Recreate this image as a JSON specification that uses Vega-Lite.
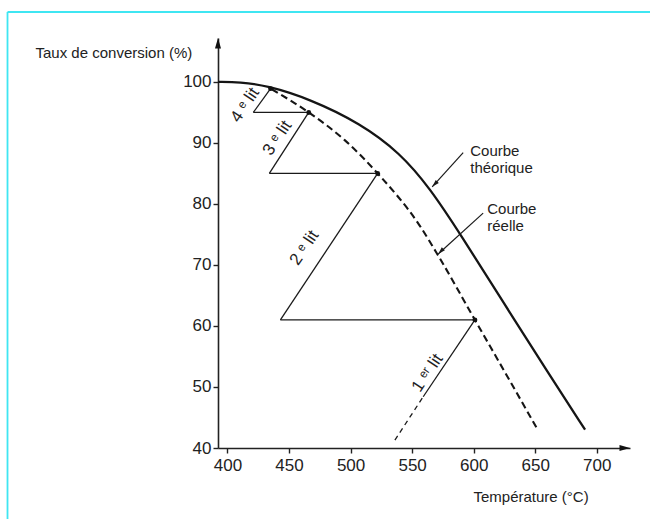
{
  "$schema": "https://vega.github.io/schema/vega-lite/v6.json",
  "autosize": "none",
  "padding": {"left": 218, "top": 38, "right": 20, "bottom": 71},
  "width": 412,
  "height": 410,
  "background": "white",
  "config": {
    "view": {"stroke": null},
    "font": "Liberation Sans",
    "axis": {
      "domainColor": "#222", "domainWidth": 1.6, "tickColor": "#222", "tickWidth": 1.4, "tickSize": 5,
      "labelFont": "Liberation Sans", "labelFontSize": 17, "labelColor": "#222", "labelOverlap": false,
      "grid": false, "titleFont": "Liberation Sans", "titleFontSize": 15, "titleFontWeight": "normal", "titleColor": "#222"
    }
  },
  "datasets": {
    "courbes": [
      {"courbe": "théorique", "x": 392.3, "y": 100},
      {"courbe": "théorique", "x": 410, "y": 100},
      {"courbe": "théorique", "x": 432, "y": 99.4},
      {"courbe": "théorique", "x": 467, "y": 97.2},
      {"courbe": "théorique", "x": 508, "y": 93.2},
      {"courbe": "théorique", "x": 540, "y": 88.4},
      {"courbe": "théorique", "x": 564.5, "y": 82.6},
      {"courbe": "théorique", "x": 590, "y": 74.8},
      {"courbe": "théorique", "x": 624, "y": 63.9},
      {"courbe": "théorique", "x": 660, "y": 52.5},
      {"courbe": "théorique", "x": 690.5, "y": 43},
      {"courbe": "réelle", "x": 436, "y": 98.8},
      {"courbe": "réelle", "x": 466, "y": 95},
      {"courbe": "réelle", "x": 495, "y": 90.5},
      {"courbe": "réelle", "x": 522, "y": 85},
      {"courbe": "réelle", "x": 556, "y": 76.5},
      {"courbe": "réelle", "x": 571, "y": 71.6},
      {"courbe": "réelle", "x": 601, "y": 61},
      {"courbe": "réelle", "x": 630, "y": 50.8},
      {"courbe": "réelle", "x": 652, "y": 43}
    ],
    "lits": [
      {"trait": "plein", "x": 559, "y": 48.4, "x2": 601, "y2": 61},
      {"trait": "plein", "x": 601, "y": 61, "x2": 443, "y2": 61},
      {"trait": "plein", "x": 443, "y": 61, "x2": 522, "y2": 85},
      {"trait": "plein", "x": 522, "y": 85, "x2": 434, "y2": 85},
      {"trait": "plein", "x": 434, "y": 85, "x2": 466, "y2": 95},
      {"trait": "plein", "x": 466, "y": 95, "x2": 421, "y2": 95},
      {"trait": "plein", "x": 421, "y": 95, "x2": 435, "y2": 98.9},
      {"trait": "pointillé", "x": 536, "y": 41.3, "x2": 559, "y2": 48.4}
    ],
    "points": [
      {"x": 601, "y": 61},
      {"x": 522, "y": 85},
      {"x": 466, "y": 95},
      {"x": 435, "y": 98.9}
    ],
    "etiquettes": [
      {"x": 414.3, "y": 96.2, "label": "4 ᵉ lit"},
      {"x": 440.6, "y": 90.8, "label": "3 ᵉ lit"},
      {"x": 462.5, "y": 72.8, "label": "2 ᵉ lit"},
      {"x": 562.5, "y": 52.3, "label": "1 ᵉʳ lit"}
    ],
    "notes": [
      {"x": 597.2, "y": 88.7, "label": "Courbe\nthéorique"},
      {"x": 611.0, "y": 79.2, "label": "Courbe\nréelle"}
    ],
    "fleches": [
      {"x": 591.5, "y": 88.4, "x2": 566.3, "y2": 82.8},
      {"x": 607.7, "y": 78.5, "x2": 571.2, "y2": 71.8}
    ],
    "cadre": [
      {"x": 221.3, "y": 111.46, "x2": 221.3, "y2": 26},
      {"x": 221.3, "y": 111.46, "x2": 752, "y2": 111.46}
    ]
  },
  "encoding": {
    "x": {
      "field": "x", "type": "quantitative",
      "scale": {"domain": [392.3, 727], "nice": false, "zero": false},
      "axis": {
        "values": [400, 450, 500, 550, 600, 650, 700], "labelPadding": 4,
        "title": "Température (°C)", "titleAngle": 0, "titleAlign": "left", "titleBaseline": "middle",
        "titleX": 255, "titleY": 48
      }
    },
    "y": {
      "field": "y", "type": "quantitative",
      "scale": {"domain": [40, 107.2], "nice": false, "zero": false},
      "axis": {
        "values": [40, 50, 60, 70, 80, 90, 100], "labelPadding": 2,
        "title": "Taux de conversion (%)", "titleAngle": 0, "titleAlign": "left", "titleBaseline": "middle",
        "titleX": -183, "titleY": 14
      }
    }
  },
  "layer": [
    {
      "data": {"name": "cadre"},
      "mark": {"type": "rule", "color": "#3fe6f2", "strokeWidth": 1.8},
      "encoding": {"x2": {"field": "x2"}, "y2": {"field": "y2"}}
    },
    {
      "data": {"name": "courbes"},
      "transform": [{"filter": "datum.courbe === 'théorique'"}],
      "mark": {"type": "line", "color": "#151515", "strokeWidth": 2.3, "interpolate": "basis"}
    },
    {
      "data": {"name": "courbes"},
      "transform": [{"filter": "datum.courbe === 'réelle'"}],
      "mark": {"type": "line", "color": "#151515", "strokeWidth": 2.1, "strokeDash": [7, 4], "interpolate": "monotone"}
    },
    {
      "data": {"name": "lits"},
      "transform": [{"filter": "datum.trait === 'plein'"}],
      "mark": {"type": "rule", "color": "#1a1a1a", "strokeWidth": 1.3},
      "encoding": {"x2": {"field": "x2"}, "y2": {"field": "y2"}}
    },
    {
      "data": {"name": "lits"},
      "transform": [{"filter": "datum.trait === 'pointillé'"}],
      "mark": {"type": "rule", "color": "#1a1a1a", "strokeWidth": 1.3, "strokeDash": [5, 4]},
      "encoding": {"x2": {"field": "x2"}, "y2": {"field": "y2"}}
    },
    {
      "data": {"name": "fleches"},
      "mark": {"type": "rule", "color": "#1a1a1a", "strokeWidth": 1.2},
      "encoding": {"x2": {"field": "x2"}, "y2": {"field": "y2"}}
    },
    {
      "data": {"name": "fleches"},
      "mark": {"type": "point", "shape": "M0,0L0.35,1.2L-0.35,1.2Z", "filled": true, "color": "#1a1a1a", "size": 150, "angle": 224, "opacity": 1},
      "encoding": {"x": {"field": "x2", "type": "quantitative"}, "y": {"field": "y2", "type": "quantitative"}}
    },
    {
      "data": {"name": "points"},
      "mark": {"type": "point", "shape": "circle", "filled": true, "color": "#111", "size": 24, "opacity": 1}
    },
    {
      "data": {"name": "etiquettes"},
      "mark": {"type": "text", "angle": -56, "align": "center", "baseline": "middle", "fontSize": 17, "color": "#222", "font": "Liberation Sans"},
      "encoding": {"text": {"field": "label"}}
    },
    {
      "data": {"name": "notes"},
      "mark": {"type": "text", "align": "left", "baseline": "middle", "fontSize": 15, "lineHeight": 17, "lineBreak": "\n", "color": "#222", "font": "Liberation Sans"},
      "encoding": {"text": {"field": "label"}}
    },
    {
      "data": {"values": [{"x": 392.3, "y": 105.77}]},
      "mark": {"type": "point", "shape": "M0,-1L0.35,0.2L-0.35,0.2Z", "filled": true, "color": "#111", "size": 300, "opacity": 1}
    },
    {
      "data": {"values": [{"x": 719.9, "y": 40}]},
      "mark": {"type": "point", "shape": "M1,0L-0.2,0.35L-0.2,-0.35Z", "filled": true, "color": "#111", "size": 300, "opacity": 1}
    }
  ]
}
